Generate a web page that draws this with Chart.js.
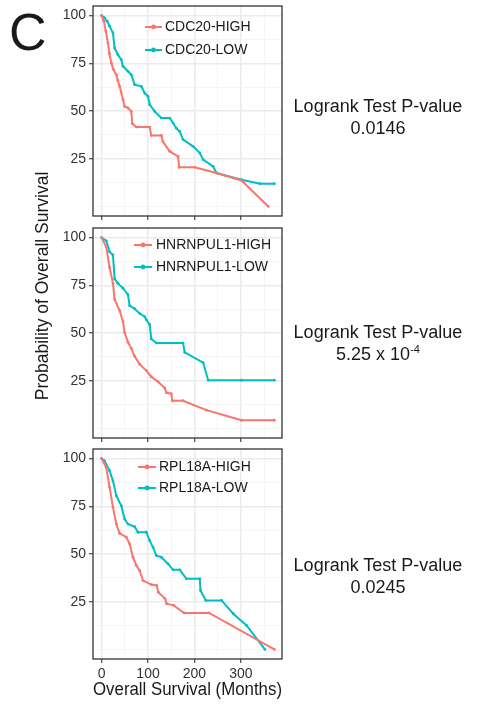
<!DOCTYPE html>
<html><head><meta charset="utf-8">
<script src="https://cdn.jsdelivr.net/npm/chart.js@4.4.1/dist/chart.umd.min.js"></script>
<style>
html,body{margin:0;padding:0;background:#fff;width:478px;height:707px;overflow:hidden;font-family:"Liberation Sans",Arial,sans-serif;}
canvas{position:absolute;left:0;}
.t{position:absolute;color:#1a1a1a;font-size:18px;line-height:22px;text-align:center;white-space:nowrap;}
sup{font-size:11px;line-height:0;vertical-align:7px;}
</style></head><body>
<div class="t" style="left:9px;top:6px;font-size:52px;line-height:52px;text-align:left">C</div>
<canvas id="c1" width="290" height="222" style="top:0"></canvas>
<canvas id="c2" width="290" height="222" style="top:222px"></canvas>
<canvas id="c3" width="290" height="263" style="top:444px"></canvas>
<div class="t" style="left:-78px;top:275px;width:240px;height:22px;font-size:17.5px;transform:rotate(-90deg);transform-origin:50% 50%">Probability of Overall Survival</div>
<div class="t" style="left:278px;width:200px;top:95px">Logrank Test P-value<br>0.0146</div>
<div class="t" style="left:278px;width:200px;top:321px">Logrank Test P-value<br>5.25 x 10<sup>-4</sup></div>
<div class="t" style="left:278px;width:200px;top:554px">Logrank Test P-value<br>0.0245</div>
<script>
// ---- data (months, survival %) ----
const cdc20HighMonths = [0, 5, 9, 13.7, 17, 20.9, 25, 31.7, 35, 38.8, 42, 46, 49.6, 56.8, 64, 66, 74.8, 103.6, 107, 128.8, 132, 146.8, 164.7, 167, 200.7, 247.5, 301.4, 359];
const cdc20HighSurv   = [100, 97, 92, 85.7, 80, 75.2, 72, 69, 66, 63, 60, 56, 52.4, 51.6, 49.8, 43.4, 41.6, 41.6, 37.2, 37.2, 34, 28.8, 26.2, 20.5, 20.5, 17.5, 13.6, 0];
const cdc20LowMonths  = [0, 6.5, 12, 17.3, 24.5, 28, 35, 42.4, 46, 56.8, 64, 71.2, 85.6, 92.8, 100, 103.6, 114.4, 128.8, 146.8, 154, 161, 168, 175.5, 197, 211.5, 218.7, 240, 247.5, 301.4, 341, 372];
const cdc20LowSurv    = [100, 98.8, 97, 94.4, 90.9, 83, 79.5, 76.9, 73.4, 70.8, 69, 63.8, 62.9, 59.4, 57.7, 53.3, 49.8, 46.3, 46.3, 43.7, 41, 39.3, 35, 31.5, 28, 24.5, 21, 17.5, 14, 11.9, 11.9];

const hnrnpHighMonths = [0, 10, 17.3, 24.5, 28, 38.8, 46, 49.6, 56.8, 64, 71.2, 82, 96.4, 107, 121.6, 136, 139.6, 150, 152.5, 175.5, 226, 301.4, 372];
const hnrnpHighSurv   = [100, 95, 84.2, 76, 67.6, 61.8, 56, 50.2, 45.2, 41.9, 37.8, 33.6, 30.3, 27, 24.5, 21.2, 18.7, 18.2, 14.5, 14.5, 9.6, 4.3, 4.3];
const hnrnpLowMonths  = [0, 10, 17.3, 24.5, 28, 35, 46, 56.8, 60.4, 71.2, 82, 92.8, 96.4, 103.6, 107, 118, 175.5, 179, 218.7, 229.5, 301.4, 372];
const hnrnpLowSurv    = [100, 98.3, 92.5, 90.9, 78.4, 76, 73.5, 70.1, 64.3, 62.7, 60.2, 58.5, 56.9, 54.4, 46.9, 44.7, 44.7, 39.8, 34.5, 25.3, 25.3, 25.3];

const rplHighMonths = [0, 10, 17.3, 24.5, 31.7, 38.8, 53.2, 60.4, 67.6, 74.8, 82, 89.2, 107, 118.7, 122.3, 136.7, 140, 155.4, 177.7, 231.6, 372];
const rplHighSurv   = [100, 95.3, 84.9, 74.4, 65.7, 60.8, 58.8, 55.3, 48.3, 44, 41.4, 36.1, 34, 33.5, 30, 26.6, 24, 23.1, 19.1, 19.1, 0];
const rplLowMonths  = [0, 6.5, 17.3, 24.5, 31.7, 42.4, 49.6, 56.8, 71.2, 78.4, 96.4, 103.6, 110.8, 118, 128.8, 143.2, 154, 168.3, 182.7, 211.5, 213, 224.5, 258.3, 283.5, 312.2, 351.8];
const rplLowSurv    = [100, 98.8, 93.6, 88.3, 80.5, 75.3, 68.3, 65.7, 64.3, 61.4, 61.4, 57, 53.5, 49.2, 48.3, 44.8, 41.7, 41.7, 37, 37, 30.9, 25.7, 25.7, 18.7, 12.6, 0];

const yTickLabels = [25, 50, 75, 100];
const xTickLabels = [0, 100, 200, 300];
const yGridValues = [0, 12.5, 25, 37.5, 50, 62.5, 75, 87.5, 100];
const xGridValues = [0, 50, 100, 150, 200, 250, 300, 350];

const RED = '#F8766D', TEAL = '#00BFC4';
const FONT = '"Liberation Sans", Arial, sans-serif';

const pts = (xs, ys) => xs.map((x, i) => ({x: x, y: ys[i]}));

const panelPlugin = {
  id: 'panel',
  afterDatasetsDraw(chart, args, opts) {
    const ctx = chart.ctx, a = chart.chartArea;
    ctx.save();
    chart.data.datasets.forEach((ds, i) => {
      const y = opts.rows[i];
      ctx.strokeStyle = ds.borderColor; ctx.lineWidth = 2;
      ctx.beginPath(); ctx.moveTo(opts.x0, y); ctx.lineTo(opts.x1, y); ctx.stroke();
      ctx.fillStyle = ds.borderColor;
      ctx.beginPath(); ctx.arc((opts.x0 + opts.x1) / 2, y, 2.4, 0, Math.PI * 2); ctx.fill();
      ctx.fillStyle = '#1a1a1a'; ctx.font = '14px ' + FONT; ctx.textBaseline = 'middle'; ctx.textAlign = 'left';
      ctx.fillText(ds.label, opts.tx, y + 0.5);
    });
    ctx.strokeStyle = '#333333'; ctx.lineWidth = 1.3;
    ctx.strokeRect(a.left, a.top, a.right - a.left, a.bottom - a.top);
    ctx.restore();
  }
};

function makeChart(id, pad, xAxisH, labels, high, low, legendOpts, showXLabels, xTitle) {
  new Chart(document.getElementById(id), {
    type: 'line',
    data: {
      datasets: [
        {label: labels[0], data: pts(high[0], high[1]), borderColor: RED, backgroundColor: RED,
         borderWidth: 2, pointRadius: 1.4, pointBorderWidth: 0, pointBackgroundColor: RED, tension: 0},
        {label: labels[1], data: pts(low[0], low[1]), borderColor: TEAL, backgroundColor: TEAL,
         borderWidth: 2, pointRadius: 1.4, pointBorderWidth: 0, pointBackgroundColor: TEAL, tension: 0}
      ]
    },
    options: {
      responsive: false, animation: false, devicePixelRatio: 1,
      layout: {padding: {left: 0, right: 8, top: pad, bottom: 0}},
      plugins: {legend: {display: false}, tooltip: {enabled: false}, panel: legendOpts},
      scales: {
        x: {
          type: 'linear', min: -18.5, max: 388.5,
          afterBuildTicks: s => { s.ticks = xGridValues.map(v => ({value: v})); },
          afterFit: s => { s.height = xAxisH; s.paddingLeft = s.paddingRight = s.paddingTop = s.paddingBottom = 0; },
          ticks: {autoSkip: false, maxRotation: 0, padding: 3, color: '#333333', font: {family: FONT, size: 14},
                  callback: v => (showXLabels && xTickLabels.includes(v)) ? String(v) : ''},
          grid: {
            color: c => xTickLabels.includes(c.tick.value) ? '#EBEBEB' : '#F2F2F2',
            lineWidth: c => xTickLabels.includes(c.tick.value) ? 1.5 : 0.8,
            tickColor: c => xTickLabels.includes(c.tick.value) ? '#333333' : 'rgba(0,0,0,0)',
            tickLength: 4, tickWidth: 1.1
          },
          border: {display: false},
          title: xTitle ? {display: true, text: xTitle, color: '#1a1a1a', font: {family: FONT, size: 18}, padding: {top: 0, bottom: 6}} : {display: false}
        },
        y: {
          type: 'linear', min: -5, max: 105,
          afterBuildTicks: s => { s.ticks = yGridValues.map(v => ({value: v})); },
          afterFit: s => { s.width = 93; s.paddingLeft = s.paddingRight = s.paddingTop = s.paddingBottom = 0; },
          ticks: {autoSkip: false, padding: 3, color: '#333333', font: {family: FONT, size: 14},
                  callback: v => yTickLabels.includes(v) ? String(v) : ''},
          grid: {
            color: c => yTickLabels.includes(c.tick.value) ? '#EBEBEB' : '#F2F2F2',
            lineWidth: c => yTickLabels.includes(c.tick.value) ? 1.5 : 0.8,
            tickColor: c => yTickLabels.includes(c.tick.value) ? '#333333' : 'rgba(0,0,0,0)',
            tickLength: 4, tickWidth: 1.1
          },
          border: {display: false}
        }
      }
    },
    plugins: [panelPlugin]
  });
}

makeChart('c1', 6, 6, ['CDC20-HIGH', 'CDC20-LOW'],
  [cdc20HighMonths, cdc20HighSurv], [cdc20LowMonths, cdc20LowSurv],
  {x0: 145, x1: 162, tx: 165, rows: [27, 50]}, false, null);
makeChart('c2', 6, 6, ['HNRNPUL1-HIGH', 'HNRNPUL1-LOW'],
  [hnrnpHighMonths, hnrnpHighSurv], [hnrnpLowMonths, hnrnpLowSurv],
  {x0: 134, x1: 152, tx: 156, rows: [23, 45]}, false, null);
makeChart('c3', 5, 48, ['RPL18A-HIGH', 'RPL18A-LOW'],
  [rplHighMonths, rplHighSurv], [rplLowMonths, rplLowSurv],
  {x0: 138, x1: 156, tx: 159, rows: [23, 44]}, true, 'Overall Survival (Months)');
</script>
</body></html>
